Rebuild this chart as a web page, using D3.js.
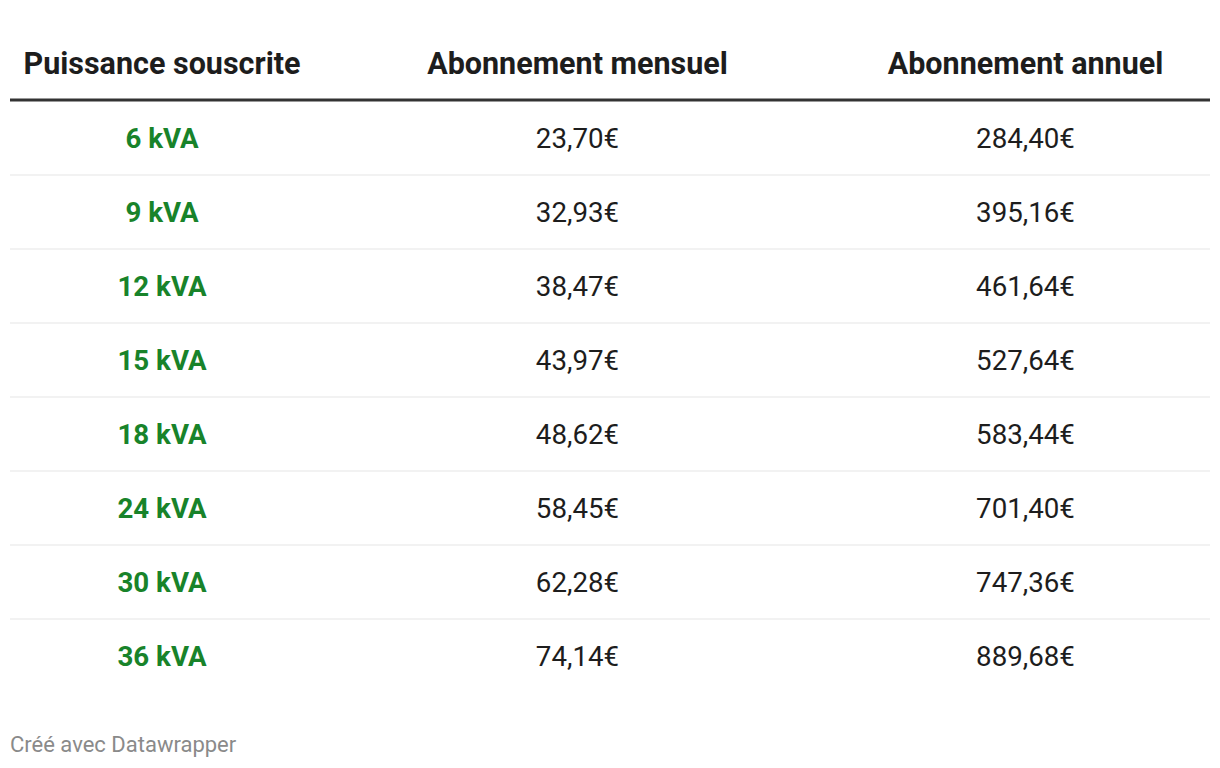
<!DOCTYPE html>
<html><head><meta charset="utf-8">
<script src="https://cdn.jsdelivr.net/npm/d3@7"></script>
<style>body{margin:0;background:#fff;}svg{display:block;font-family:Roboto,sans-serif;}</style>
</head><body><svg id="c" width="1220" height="768"></svg>
<script>
const headers = ["Puissance souscrite", "Abonnement mensuel", "Abonnement annuel"];
const puissances = ["6 kVA", "9 kVA", "12 kVA", "15 kVA", "18 kVA", "24 kVA", "30 kVA", "36 kVA"];
const mensuel = [23.70, 32.93, 38.47, 43.97, 48.62, 58.45, 62.28, 74.14];
const annuel = [284.40, 395.16, 461.64, 527.64, 583.44, 701.40, 747.36, 889.68];
const footer = "Créé avec Datawrapper";

const svg = d3.select("#c");
const fmt = v => v.toFixed(2).replace(".", ",") + "€";
const colEdges = [10, 314, 841, 1210];
const colCenter = i => (colEdges[i] + colEdges[i+1]) / 2;
const y = d3.scaleBand().domain(d3.range(puissances.length)).range([101, 101 + 74*puissances.length]);

svg.selectAll("text.h").data(headers).join("text")
  .attr("x", (d,i) => colCenter(i)).attr("y", 74)
  .attr("text-anchor", "middle").attr("font-size", 30.5).attr("font-weight", 700).attr("fill", "#1d1d1d")
  .text(d => d);

svg.append("rect").attr("x", 10).attr("y", 98.5).attr("width", 1200).attr("height", 3).attr("fill", "#333");

svg.selectAll("rect.sep").data(d3.range(1, puissances.length)).join("rect")
  .attr("x", 10).attr("y", d => y(d) - 0.5).attr("width", 1200).attr("height", 1).attr("fill", "#e6e6e6");

const rows = puissances.map((p,i) => [p, fmt(mensuel[i]), fmt(annuel[i])]);
rows.forEach((r, ri) => {
  svg.selectAll(null).data(r).join("text")
    .attr("x", (d,i) => colCenter(i)).attr("y", y(ri) + y.bandwidth()/2)
    .attr("dy", "0.35em").attr("text-anchor", "middle").attr("font-size", 27.7)
    .attr("font-weight", (d,i) => i === 0 ? 700 : 400)
    .attr("fill", (d,i) => i === 0 ? "#18832a" : "#1d1d1d")
    .text(d => d);
});

svg.append("text").attr("x", 10).attr("y", 752).attr("font-size", 22).attr("fill", "#8a8a8a").text(footer);
</script></body></html>
